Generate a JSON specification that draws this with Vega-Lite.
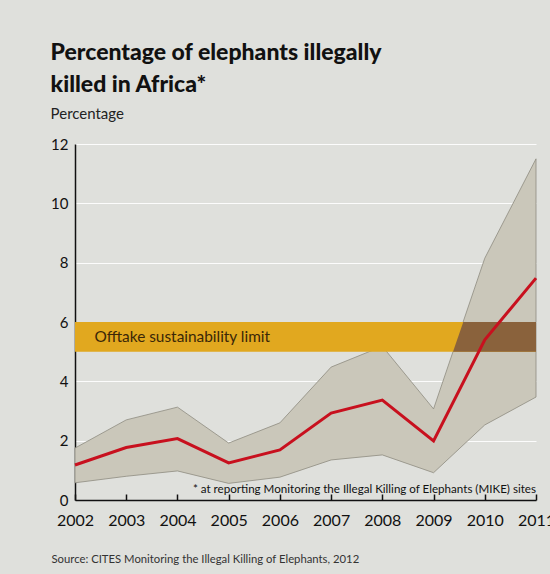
{
  "$schema": "https://vega.github.io/schema/vega-lite/v6.json",
  "width": 461,
  "height": 356,
  "autosize": "none",
  "padding": {"left": 75, "top": 144, "right": 14, "bottom": 74},
  "background": "#dfe0dc",
  "config": {
    "view": {"stroke": null},
    "font": "Lato"
  },
  "title": {
    "text": ["Percentage of elephants illegally", "killed in Africa*"],
    "subtitle": "Percentage",
    "anchor": "start",
    "frame": "bounds",
    "font": "Lato",
    "fontSize": 23,
    "fontWeight": 900,
    "lineHeight": 32,
    "color": "#111111",
    "subtitleFont": "Lato",
    "subtitleFontSize": 15,
    "subtitleColor": "#222222",
    "subtitlePadding": 10,
    "offset": 15
  },
  "datasets": {
    "series": [
      {"year": 2002, "central": 1.18, "lower": 0.58, "upper": 1.75},
      {"year": 2003, "central": 1.77, "lower": 0.8, "upper": 2.7},
      {"year": 2004, "central": 2.07, "lower": 0.98, "upper": 3.13},
      {"year": 2005, "central": 1.25, "lower": 0.56, "upper": 1.92},
      {"year": 2006, "central": 1.69, "lower": 0.77, "upper": 2.6},
      {"year": 2007, "central": 2.93, "lower": 1.35, "upper": 4.48},
      {"year": 2008, "central": 3.37, "lower": 1.52, "upper": 5.18},
      {"year": 2009, "central": 1.99, "lower": 0.92, "upper": 3.07},
      {"year": 2010, "central": 5.4, "lower": 2.53, "upper": 8.15},
      {"year": 2011, "central": 7.48, "lower": 3.47, "upper": 11.5}
    ],
    "limit": [
      {"start": 2002, "end": 2011, "low": 5, "high": 6, "label": "Offtake sustainability limit", "labelYear": 2002.38, "labelValue": 5.5}
    ],
    "overlap": [
      {"year": 2009.38, "low": 5, "high": 5},
      {"year": 2009.58, "low": 5, "high": 6},
      {"year": 2011, "low": 5, "high": 6}
    ],
    "note": [
      {"year": 2011, "value": 0.22, "text": "* at reporting Monitoring the Illegal Killing of Elephants (MIKE) sites"}
    ]
  },
  "encoding": {
    "x": {
      "field": "year",
      "type": "quantitative",
      "scale": {"domain": [2002, 2011], "nice": false, "zero": false},
      "axis": {
        "values": [2002, 2003, 2004, 2005, 2006, 2007, 2008, 2009, 2010, 2011],
        "format": "d",
        "grid": false,
        "domainColor": "#111111",
        "domainWidth": 1.5,
        "tickColor": "#111111",
        "tickWidth": 1.5,
        "tickSize": -6,
        "labelPadding": 18,
        "labelFont": "Lato",
        "labelFontSize": 16,
        "labelColor": "#111111",
        "labelFlush": false,
        "title": "Source: CITES Monitoring the Illegal Killing of Elephants, 2012",
        "titleFont": "Lato",
        "titleFontSize": 11.3,
        "titleFontWeight": "normal",
        "titleColor": "#333333",
        "titleAnchor": "start",
        "titleAlign": "left",
        "titleBaseline": "alphabetic",
        "titleX": -24,
        "titleY": 62
      }
    }
  },
  "layer": [
    {
      "data": {"name": "series"},
      "mark": {"type": "area", "color": "#cac7ba", "stroke": "#8e8b80", "strokeWidth": 0.8},
      "encoding": {
        "y": {
          "field": "upper",
          "type": "quantitative",
          "scale": {"domain": [0, 12], "nice": false},
          "axis": {
            "values": [0, 2, 4, 6, 8, 10, 12],
            "grid": true,
            "gridColor": "#ffffff",
            "gridWidth": 1,
            "gridOpacity": 0.9,
            "ticks": false,
            "domainColor": "#111111",
            "domainWidth": 1.5,
            "labelFont": "Lato",
            "labelFontSize": 15,
            "labelColor": "#111111",
            "labelPadding": 7,
            "title": null
          }
        },
        "y2": {"field": "lower"}
      }
    },
    {
      "data": {"name": "limit"},
      "mark": {"type": "rect", "color": "#e1a81f"},
      "encoding": {
        "x": {"field": "start", "type": "quantitative"},
        "x2": {"field": "end"},
        "y": {"field": "low", "type": "quantitative"},
        "y2": {"field": "high"}
      }
    },
    {
      "data": {"name": "overlap"},
      "mark": {"type": "area", "color": "#8a623c"},
      "encoding": {
        "y": {"field": "high", "type": "quantitative"},
        "y2": {"field": "low"}
      }
    },
    {
      "data": {"name": "series"},
      "mark": {"type": "line", "color": "#c8101e", "strokeWidth": 3},
      "encoding": {
        "y": {"field": "central", "type": "quantitative"}
      }
    },
    {
      "data": {"name": "limit"},
      "mark": {"type": "text", "align": "left", "baseline": "middle", "font": "Lato", "fontSize": 15.4, "color": "#3a2708"},
      "encoding": {
        "x": {"field": "labelYear", "type": "quantitative"},
        "y": {"field": "labelValue", "type": "quantitative"},
        "text": {"field": "label"}
      }
    },
    {
      "data": {"name": "note"},
      "mark": {"type": "text", "align": "right", "baseline": "alphabetic", "font": "Lato", "fontSize": 11.6, "color": "#111111"},
      "encoding": {
        "x": {"field": "year", "type": "quantitative"},
        "y": {"field": "value", "type": "quantitative"},
        "text": {"field": "text"}
      }
    }
  ]
}
